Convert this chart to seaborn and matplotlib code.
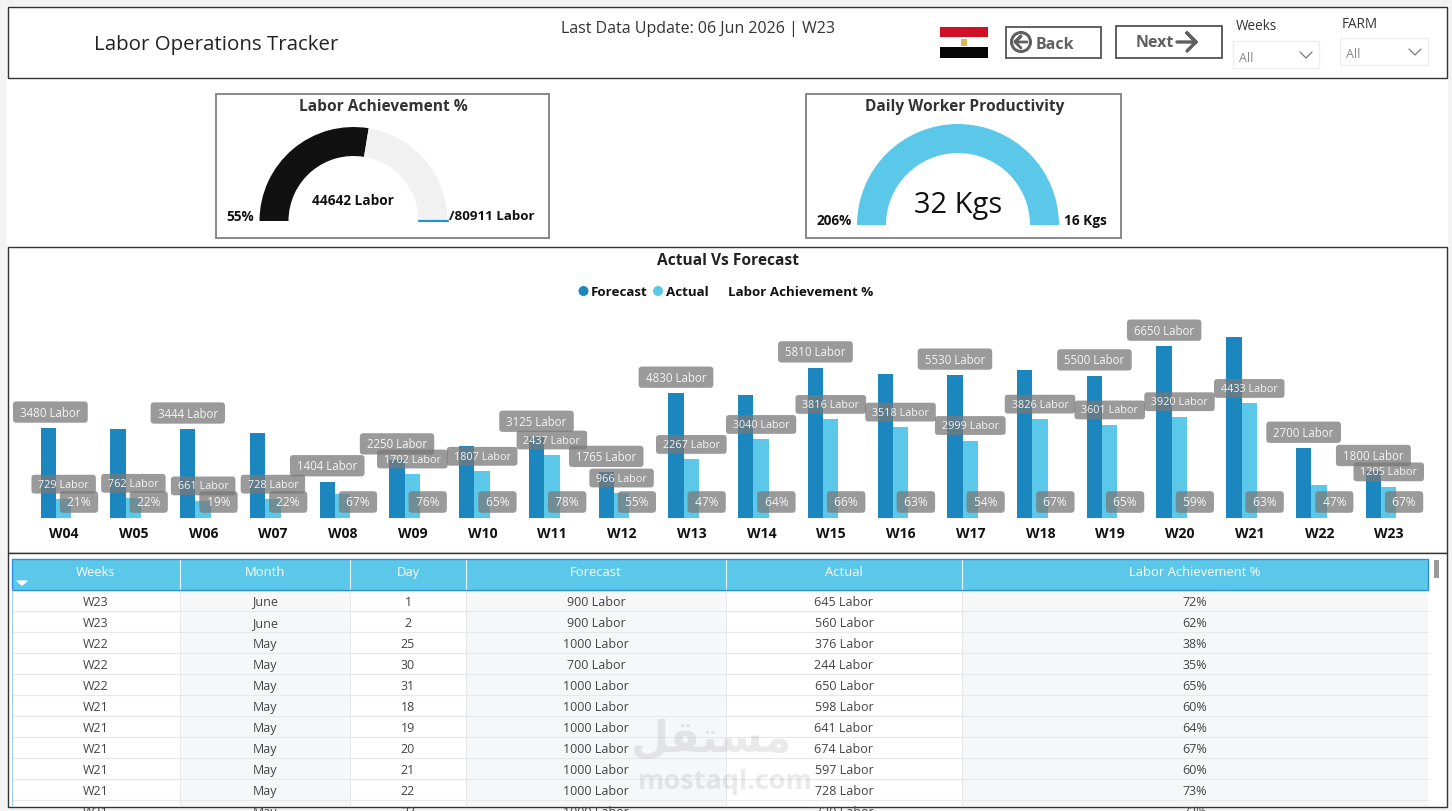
import pandas as pd
import numpy as np
import matplotlib
matplotlib.use('Agg')
import matplotlib.pyplot as plt
from matplotlib.patches import Rectangle, Wedge, Circle
import seaborn as sns

# ---- chart data ----
weeks = ['W04', 'W05', 'W06', 'W07', 'W08', 'W09', 'W10', 'W11', 'W12', 'W13',
         'W14', 'W15', 'W16', 'W17', 'W18', 'W19', 'W20', 'W21', 'W22', 'W23']
forecast = [3480, 3440, 3444, 3300, 1404, 2250, 2790, 3125, 1765, 4830,
            4750, 5810, 5580, 5530, 5710, 5500, 6650, 7000, 2700, 1800]
actual = [729, 762, 661, 728, 940, 1702, 1807, 2437, 966, 2267,
          3040, 3816, 3518, 2999, 3826, 3601, 3920, 4433, 1270, 1205]
achievement = [21, 22, 19, 22, 67, 76, 65, 78, 55, 47,
               64, 66, 63, 54, 67, 65, 59, 63, 47, 67]
# power bi drops the labels that collide
no_forecast_label = ['W05', 'W07', 'W10', 'W14', 'W16', 'W18', 'W21']
no_actual_label = ['W08', 'W22']

# ---- gauges ----
gauge_actual = 44642
gauge_target = 80911

# ---- table data ----
col_names = ['Weeks', 'Month', 'Day', 'Forecast', 'Actual', 'Labor Achievement %']
col_edges = [12, 180, 350, 466, 726, 962, 1428]
row_weeks = ['W23', 'W23', 'W22', 'W22', 'W22', 'W21', 'W21', 'W21', 'W21', 'W21', 'W21']
row_months = ['June', 'June', 'May', 'May', 'May', 'May', 'May', 'May', 'May', 'May', 'May']
row_days = [1, 2, 25, 30, 31, 18, 19, 20, 21, 22, 23]
row_forecast = [900, 900, 1000, 700, 1000, 1000, 1000, 1000, 1000, 1000, 1000]
row_actual = [645, 560, 376, 244, 650, 598, 641, 674, 597, 728, 720]
row_pct = [72, 62, 38, 35, 65, 60, 64, 67, 60, 73, 72]

DARK_BLUE = '#1B87BE'
LIGHT_BLUE = '#5BC8EA'
EDGE = '#333333'
GREY_BOX = '#7F7F7F'
BTN = '#606060'
px = 0.72  # pixel -> point at dpi 100

sns.set_theme(style='white')
plt.rcParams['font.family'] = ['Open Sans', 'DejaVu Sans']

fig = plt.figure(figsize=(14.52, 8.12), dpi=100, facecolor='#F3F3F3')

# page layer, works in image pixels
bg = fig.add_axes([0, 0, 1, 1], zorder=0)
bg.set_xlim(0, 1452)
bg.set_ylim(811, -1)
bg.axis('off')


def box(x0, y0, x1, y1, fc='white', ec=EDGE, lw=1.0, ax=bg, z=1):
    r = Rectangle((x0, y0), x1 - x0, y1 - y0, facecolor=fc, edgecolor=ec, linewidth=lw, zorder=z)
    ax.add_patch(r)
    return r


def label(x, y, s, size, color='#222222', ha='center', weight='normal', z=5, family=None):
    kw = {'family': family} if family else {}
    return bg.text(x, y + 1, s, fontsize=size * px, color=color, ha=ha, va='center',
                   fontweight=weight, zorder=z, **kw)


# ---- panels ----
box(7, 79, 1448, 247, ec='none')
box(8, 7, 1447, 78)
box(8, 247, 1447, 553)
box(8, 553, 1447, 807)

# ---- header row ----
label(94, 43, 'Labor Operations Tracker', 20.5, ha='left')
label(698, 27, 'Last Data Update: 06 Jun 2026 | W23', 16, color='#333333')

box(940, 27, 988, 37, fc='#CE1126', ec='none')
box(940, 47, 988, 58, fc='#050505', ec='none')
box(961, 39, 967, 46, fc='#D9B65A', ec='none')

box(1006, 27, 1101, 58, ec=BTN, lw=1.4)
bg.add_patch(Circle((1021, 42), 9.5, fill=False, ec=BTN, lw=2.2, zorder=5))
bg.plot([1027, 1015, 1021, 1015, 1021], [42, 42, 36, 42, 48], color=BTN, lw=2, zorder=5)
label(1036, 43, 'Back', 16, color=BTN, ha='left', weight='bold')

box(1116, 26, 1222, 58, lw=1.1)
label(1136, 41, 'Next', 16, color=BTN, ha='left', weight='bold')
bg.plot([1177, 1196, 1187, 1196, 1187], [42, 42, 33, 42, 51], color=BTN, lw=2.4, zorder=5)

for name, tx, ty, x0, y0, x1, y1 in [('Weeks', 1236, 26, 1233, 41, 1319, 68),
                                     ('FARM', 1342, 23, 1340, 38, 1428, 65)]:
    label(tx, ty - 1, name, 13.5, color='#333333', ha='left')
    box(x0, y0, x1, y1, ec='#EEEEEE')
    label(x0 + 6, y1 - 12, 'All', 12.5, color='#888888', ha='left')
    bg.plot([x1 - 19, x1 - 13, x1 - 7], [y1 - 16, y1 - 10, y1 - 16], color='#777777', lw=0.9, zorder=5)

# ---- gauges ----
box(216, 94, 549, 238, ec=GREY_BOX, lw=1.3)
box(806, 94, 1121, 238, ec=GREY_BOX, lw=1.3)
label(383, 105, 'Labor Achievement %', 15.5, weight='bold', color='#333333')
label(965, 105, 'Daily Worker Productivity', 15.5, weight='bold', color='#333333')

# y axis is flipped here, so 180 -> 360 is the upper half
split = 180 + 180 * gauge_actual / gauge_target
bg.add_patch(Wedge((353.5, 221), 94, 180, split, width=29, fc='#111111', ec='none', zorder=3))
bg.add_patch(Wedge((353.5, 221), 94, split, 360, width=29, fc='#F1F1F1', ec='none', zorder=3))
bg.plot([419, 448], [221, 221], color='#2A8FD0', lw=1.6, zorder=4)
label(353, 199, f'{gauge_actual} Labor', 13.6, weight='bold', color='#111111')
label(240, 215, f'{round(100 * gauge_actual / gauge_target)}%', 13.6, weight='bold', color='#111111')
label(449, 215, f'/{gauge_target} Labor', 13.4, weight='bold', color='#111111', ha='left')

bg.add_patch(Wedge((958, 225), 101, 180, 360, width=29, fc=LIGHT_BLUE, ec='none', zorder=3))
label(958, 204, '32 Kgs', 29, color='#111111')
label(834, 219, '206%', 13.6, weight='bold', color='#111111')
label(1085, 219, '16 Kgs', 13.6, weight='bold', color='#111111')

# ---- chart header ----
label(728, 259, 'Actual Vs Forecast', 15.5, weight='bold', color='#222222')
bg.add_patch(Circle((583.5, 291), 5, fc=DARK_BLUE, ec='none', zorder=5))
label(591, 291, 'Forecast', 13.4, weight='bold', ha='left', color='#111111')
bg.add_patch(Circle((658, 291), 5, fc=LIGHT_BLUE, ec='none', zorder=5))
label(666, 291, 'Actual', 13.4, weight='bold', ha='left', color='#111111')
label(728, 291, 'Labor Achievement %', 13.4, weight='bold', ha='left', color='#111111')

# ---- bars ----
ax = fig.add_axes([8 / 1452, 1 - 519 / 812, 1439 / 1452, 218 / 812], zorder=2)
ax.patch.set_alpha(0)

df = pd.DataFrame({'week': weeks, 'Forecast': forecast, 'Actual': actual})
long_df = df.melt(id_vars='week', var_name='series', value_name='labor')
sns.barplot(data=long_df, x='week', y='labor', hue='series', ax=ax, width=0.44,
            palette={'Forecast': DARK_BLUE, 'Actual': LIGHT_BLUE}, saturation=1,
            legend=False, linewidth=0)

step = 69.74
ax.set_xlim((8 - 56) / step, (1447 - 56) / step)
ax.set_ylim(0, 218 * 38.7)
ax.set_xlabel('')
ax.set_ylabel('')
ax.set_yticks([])
sns.despine(ax=ax, left=True, bottom=True)
ax.tick_params(axis='x', length=0, pad=0)
ax.set_xticks(range(len(weeks)))
ax.set_xticklabels([])

pill = dict(boxstyle='round,pad=0.36,rounding_size=0.3', fc=(0.47, 0.47, 0.47, 0.75), ec='none')


def pill_text(xy, text, dx, dy, size=8.3):
    ax.annotate(text, xy=xy, xytext=(dx, dy), textcoords='offset pixels', ha='center', va='center',
                fontsize=size, color='#F4F4F4', bbox=pill, zorder=10)


forecast_bars, actual_bars = ax.containers[0], ax.containers[1]
for i, w in enumerate(weeks):
    # week names sit right of the bar group, same as the original visual
    ax.annotate(w, xy=(i, 0), xytext=(8, -15), textcoords='offset pixels', ha='center', va='center',
                fontsize=14 * px, fontweight='bold', color='#111111')
    if w not in no_forecast_label:
        b = forecast_bars[i]
        pill_text((b.get_x() + b.get_width() / 2, forecast[i]), f' {forecast[i]} Labor ', 2 if i == 0 else 0, 16)
for i, w in enumerate(weeks):
    if w not in no_actual_label:
        b = actual_bars[i]
        pill_text((b.get_x() + b.get_width() / 2, actual[i]), f' {actual[i]} Labor ', 0, 15, size=7.8)
for i, w in enumerate(weeks):
    pill_text((i, 0), f' {achievement[i]}% ', 23, 16, size=8.6)

# ---- table ----
table_clip = Rectangle((9, 554), 1437, 252, transform=bg.transData)
row_h = 21.05
row_top = 589.5
for c in range(6):
    shade = '#F6F7F9' if c % 2 else 'white'
    box(col_edges[c], row_top, col_edges[c + 1], 806, fc=shade, ec='none', z=1)
    if c:
        bg.plot([col_edges[c]] * 2, [row_top, 806], color='#E8E8E8', lw=0.8, zorder=2)
        bg.plot([col_edges[c]] * 2, [560, 589], color='#E4F4FA', lw=0.8, zorder=4)

box(12, 559, 1428, 590, fc=LIGHT_BLUE, ec='#2B8FE8', lw=1.0, z=3)
for c, name in enumerate(col_names):
    label((col_edges[c] + col_edges[c + 1]) / 2, 570.5, name, 13, color='white')
bg.fill([17, 27, 22], [581, 581, 585], color='white', zorder=5)
bg.plot([12, 12], [590, 806], color='#A5D0F2', lw=0.8, zorder=4)

for r in range(len(row_weeks)):
    y = row_top + row_h * (r + 0.5)
    if r:
        line = bg.plot([12, 1428], [row_top + row_h * r] * 2, color='#E8E8E8', lw=0.8, zorder=2)[0]
    cells = [row_weeks[r], row_months[r], row_days[r], f'{row_forecast[r]} Labor',
             f'{row_actual[r]} Labor', f'{row_pct[r]}%']
    for c, v in enumerate(cells):
        t = label((col_edges[c] + col_edges[c + 1]) / 2, y, str(v), 12.5, color='#444444')
        t.set_clip_path(table_clip)

# scrollbar
box(1433.5, 560, 1439, 578, fc='#9A9A9A', ec='none', z=3)

# watermark
label(712, 737, '\uFEDE\uFED8\uFE98\uFEB4\uFEE3', 44, color=(0.5, 0.5, 0.5, 0.16), weight='bold',
      z=8, family='DejaVu Sans')
label(725, 780, 'mostaql.com', 27, color=(0.5, 0.5, 0.5, 0.16), weight='bold', z=8)

fig.savefig('out.png', dpi=100, facecolor=fig.get_facecolor())
